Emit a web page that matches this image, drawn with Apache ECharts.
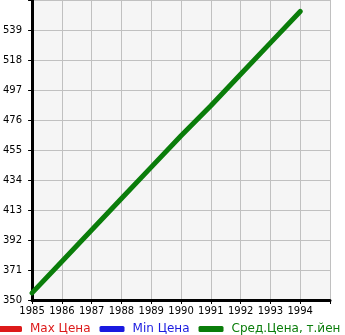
<!DOCTYPE html>
<html><head><meta charset="utf-8">
<script src="https://cdn.jsdelivr.net/npm/echarts@6/dist/echarts.min.js"></script>
<style>html,body{margin:0;padding:0;background:#fff}#c{width:345px;height:335px}</style>
</head><body><div id="c"></div>
<script>
var years = [1985,1986,1987,1988,1989,1990,1991,1992,1993,1994];
var maxPrice = [];
var minPrice = [];
var avgPrice = [355,377,399,421,443,465,486,508,530,552];
var yTicks = [350,371,392,413,434,455,476,497,518,539];
var seriesNames = ['Max Цена','Min Цена','Сред.Цена, т.йен'];

var chart = echarts.init(document.getElementById('c'), null, {renderer:'canvas'});
function pairs(v){ return v.map(function(y,i){ return [years[i], y]; }); }
var font = 'DejaVu Sans';
chart.setOption({
  animation:false,
  backgroundColor:'#ffffff',
  grid:{left:31,right:15,top:0,bottom:35,show:true,backgroundColor:'#f5f5f5',borderWidth:0},
  xAxis:{type:'value',min:1985,max:1995,interval:1,
    axisLine:{show:true,lineStyle:{color:'#000',width:3}},
    axisTick:{show:true,length:4,lineStyle:{color:'#000',width:1}},
    axisLabel:{color:'#000',fontSize:10,fontFamily:font,margin:6,
      formatter:function(v){return v>1994?'':String(v);}},
    splitLine:{show:true,lineStyle:{color:'#c0c0c0',width:1}}},
  yAxis:{type:'value',min:350,max:560,interval:21,
    axisLine:{show:true,lineStyle:{color:'#000',width:3}},
    axisTick:{show:true,length:4,lineStyle:{color:'#000',width:1}},
    axisLabel:{color:'#000',fontSize:10,fontFamily:font,margin:10,
      formatter:function(v){return yTicks.indexOf(v)>=0?String(v):'';}},
    splitLine:{show:true,lineStyle:{color:'#c0c0c0',width:1}}},
  legend:{left:-3,bottom:0,width:400,padding:0,itemGap:9,itemWidth:25,itemHeight:6,
    icon:'roundRect',
    data:seriesNames.map(function(n,i){
      return {name:n,textStyle:{color:['#dd1a1a','#1a1ae0','#0a7d0a'][i]}};
    }),
    textStyle:{fontSize:12,fontFamily:font,padding:[0,0,0,3]}},
  series:[
    {name:seriesNames[0],type:'line',data:pairs(maxPrice),color:'#dd1a1a',showSymbol:false,lineStyle:{width:5}},
    {name:seriesNames[1],type:'line',data:pairs(minPrice),color:'#1a1ae0',showSymbol:false,lineStyle:{width:5}},
    {name:seriesNames[2],type:'line',data:pairs(avgPrice),color:'#0a7d0a',showSymbol:false,lineStyle:{width:5,cap:'round'}}
  ]
});
</script></body></html>
